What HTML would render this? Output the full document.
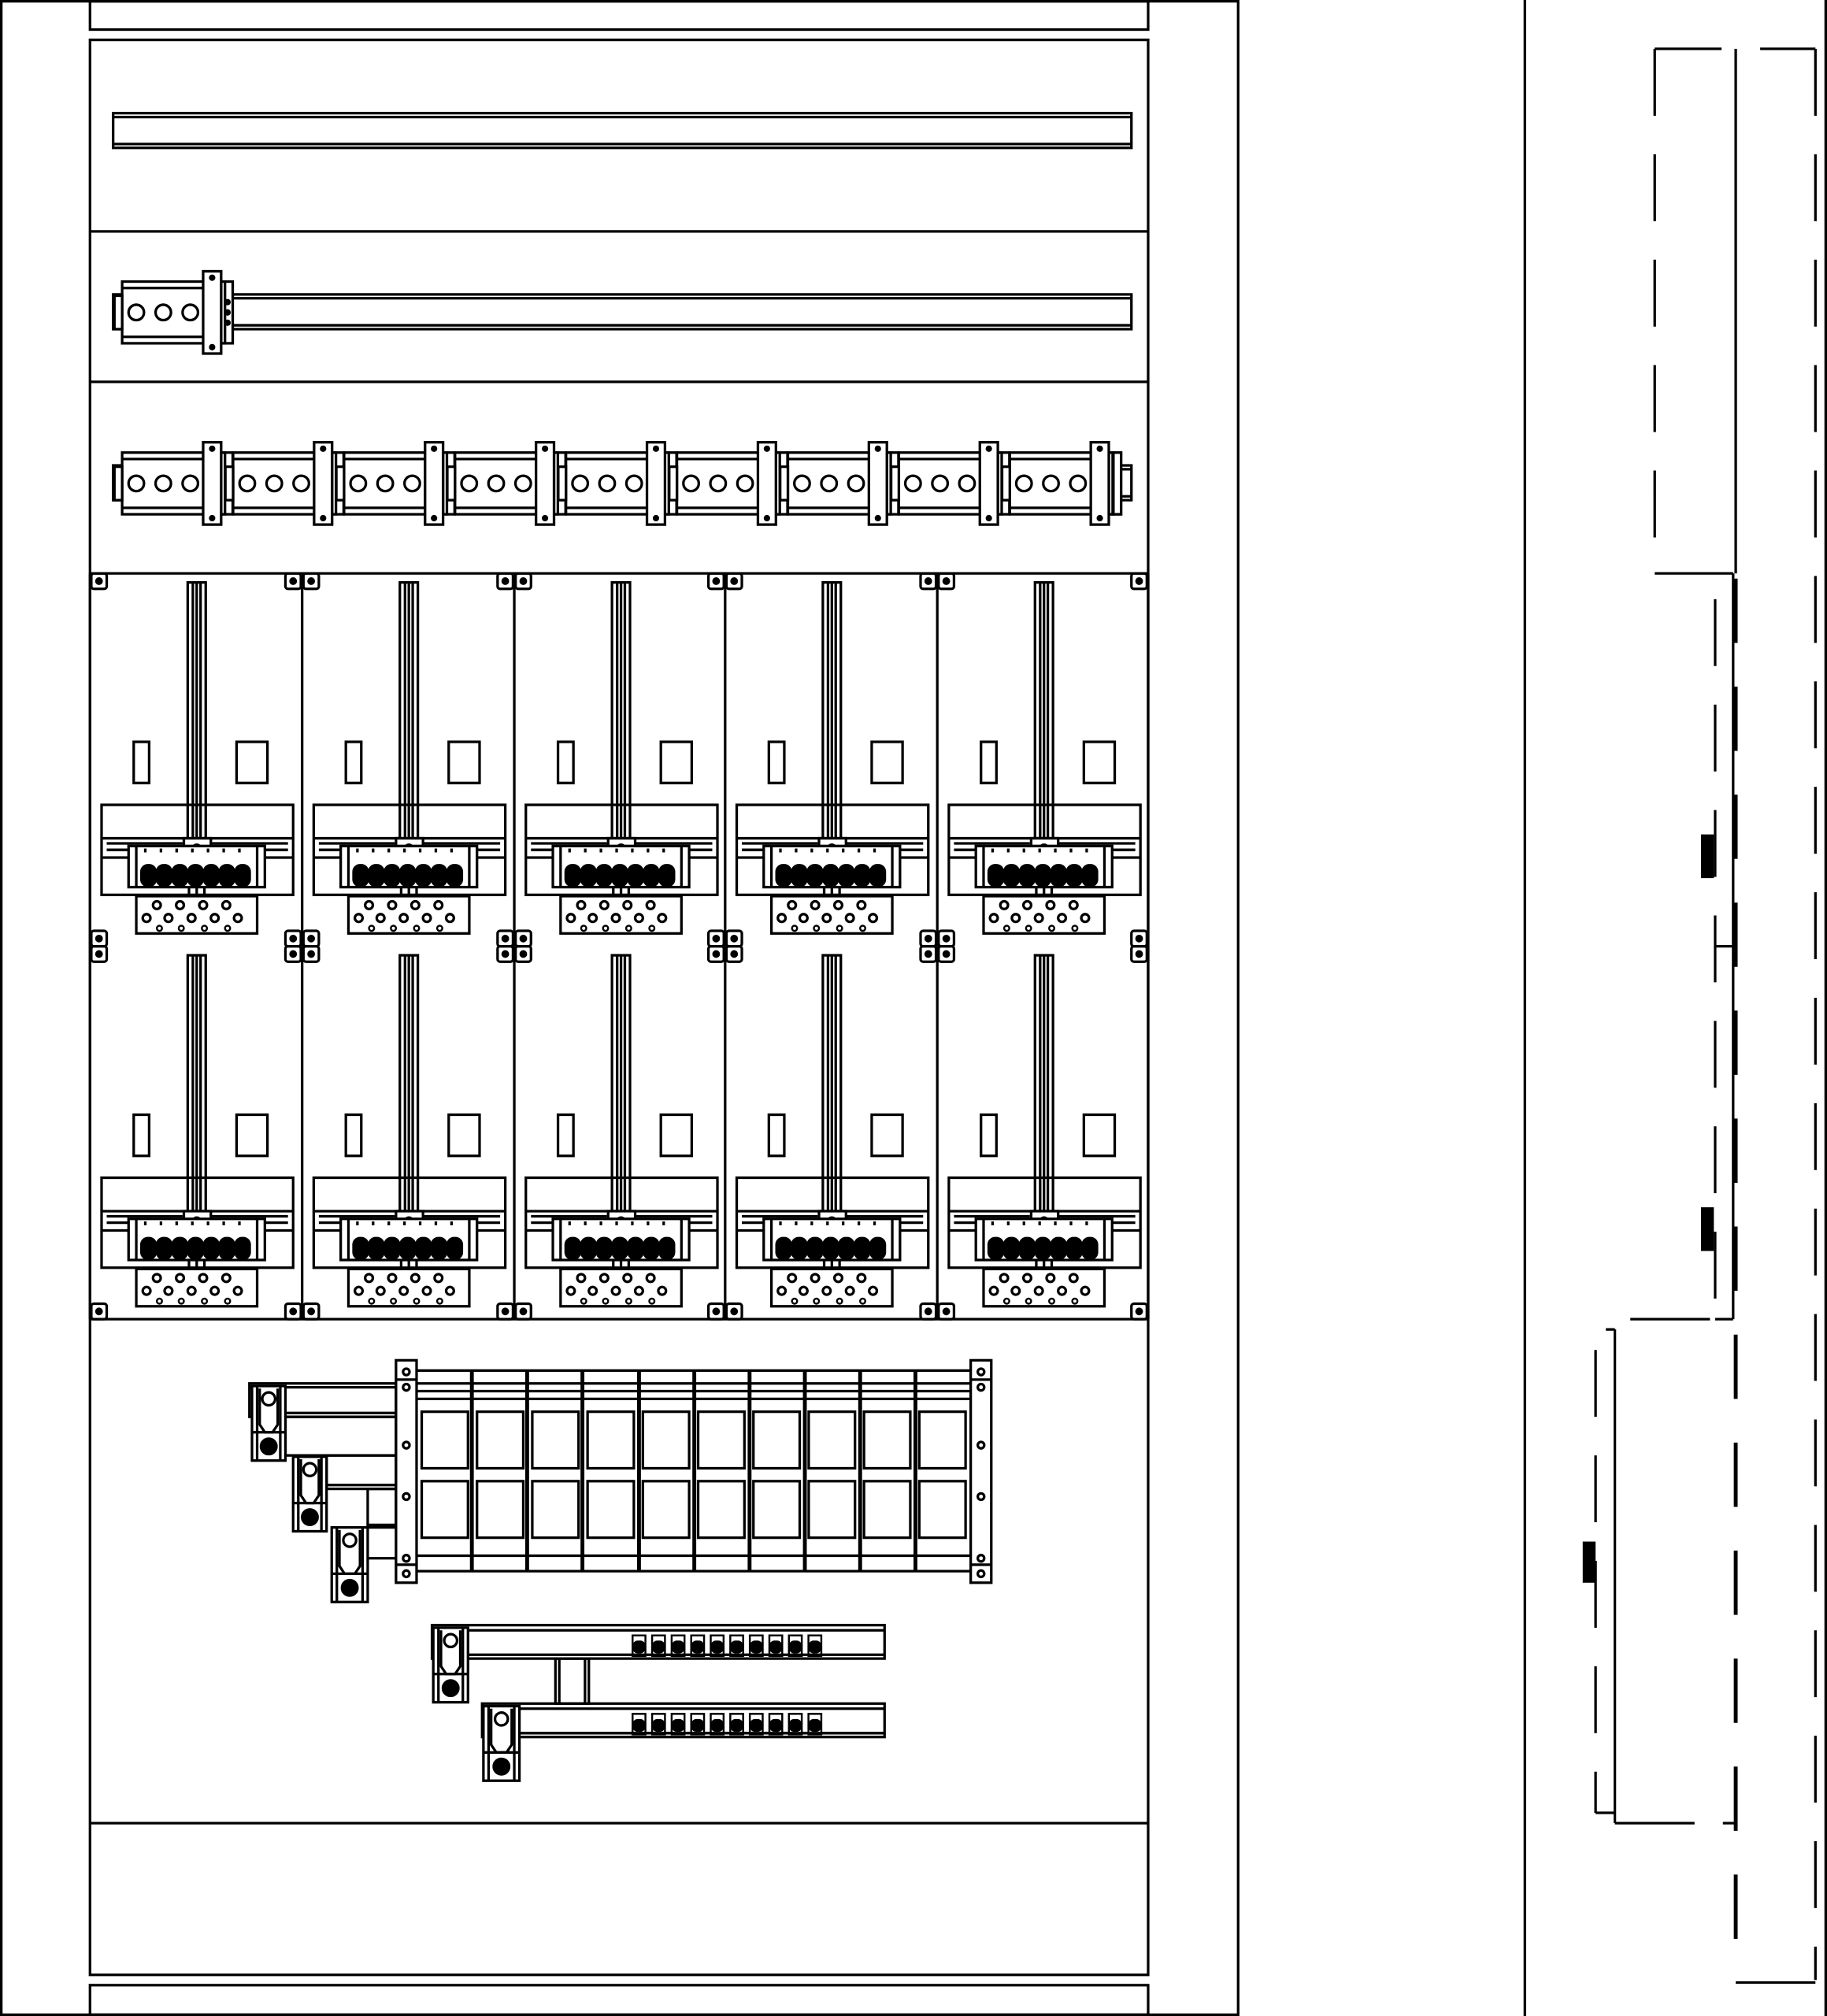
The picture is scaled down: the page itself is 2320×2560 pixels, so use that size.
<!DOCTYPE html>
<html><head><meta charset="utf-8"><style>
html,body{margin:0;padding:0;background:#fff;width:2320px;height:2560px;overflow:hidden}
svg{display:block}
</style></head><body>
<svg id="s" width="2320" height="2560" viewBox="0 0 1421 1568" xmlns="http://www.w3.org/2000/svg" fill="none" stroke="#000" stroke-width="2">
<g id="g"></g>
</svg>
<script>
var out=[];
function R(x,y,w,h,a){out.push('<rect x="'+x+'" y="'+y+'" width="'+w+'" height="'+h+'" '+(a||'')+'/>');}
function L(x1,y1,x2,y2,a){out.push('<line x1="'+x1+'" y1="'+y1+'" x2="'+x2+'" y2="'+y2+'" '+(a||'')+'/>');}
function C(x,y,r,a){out.push('<circle cx="'+x+'" cy="'+y+'" r="'+r+'" '+(a||'')+'/>');}
// frame
R(1,1,962,1566);
R(70,1,823,22);R(70,31,823,1505);R(70,1544,823,23);
[180,297,446,1026,1418].forEach(function(y){L(70,y,893,y);});
// rail 1
R(88,88,792,27);L(88,91,880,91);L(88,112,880,112);
// rail 2
R(88,229,792,27);L(88,232,880,232);L(88,253,880,253);
function block(x,y){ // terminal block of 3 circles
 R(x,y-24,80,48,'fill="#fff"');L(x,y-19,x+80,y-19);L(x,y+19,x+80,y+19);
 R(x-6,y-13,6,26,'fill="#fff"');
 [11,32,53].forEach(function(d){C(x+d,y,6);});
 R(x+77,y-24,9,48,'fill="#fff"');L(x+80,y-24,x+80,y+24);
 C(x+82,y-8,1.5,'fill="#000"');C(x+82,y,1.5,'fill="#000"');C(x+82,y+8,1.5,'fill="#000"');
 R(x+63,y-32,14,64,'fill="#fff"');C(x+70,y-27,1.5,'fill="#000"');C(x+70,y+27,1.5,'fill="#000"');
}
block(95,243);
// rail 3
R(88,362,792,27);L(88,365,880,365);L(88,386,880,386);
for(var i=0;i<9;i++){block(95+i*86.3,376);}
R(866,352,6,48,'fill="#fff"');
// meter grid
var cols=[70,235,400,564,729,893];
L(893,446,893,1026);
function screw(x,y){R(x-6,y-6,12,12,'rx="2"');C(x,y,2,'fill="#000"');}
for(var r=0;r<2;r++){
 var y0=446+r*290;
 for(var c=0;c<5;c++){
  var x0=cols[c];
  L(x0,y0,x0,y0+290);
  var ox=x0-70,oy=y0-446;
  // bar
  R(146+ox,453+oy,14,202);L(150+ox,453+oy,150+ox,655+oy);L(153+ox,453+oy,153+ox,655+oy);L(156+ox,453+oy,156+ox,655+oy);
  R(104+ox,577+oy,12,32);R(184+ox,577+oy,24,32);
  R(79+ox,626+oy,149,70);
  L(79+ox,652+oy,228+ox,652+oy);L(79+ox,667+oy,228+ox,667+oy);
  L(83+ox,656+oy,142+ox,656+oy);L(162+ox,656+oy,224+ox,656+oy);
  L(83+ox,661+oy,224+ox,661+oy);
  R(143+ox,652+oy,21,8,'fill="#fff"');
  out.push('<path d="M150,'+(660+oy)+' a3,3 0 0 1 6,0" transform="translate('+ox+',0)"/>');
  R(100+ox,658+oy,106,32,'fill="#fff"');L(106+ox,658+oy,106+ox,690+oy);L(200+ox,658+oy,200+ox,690+oy);
  for(var k=0;k<7;k++){R(110+ox+k*12.2,673+oy,11,16,'rx="5" fill="#000"');L(113+ox+k*12.2,660+oy,113+ox+k*12.2,663+oy);}
  L(147+ox,690+oy,147+ox,696+oy);L(153+ox,690+oy,153+ox,696+oy);L(159+ox,690+oy,159+ox,696+oy);
  R(106+ox,697+oy,94,29);
  [122,140,158,176].forEach(function(d){C(d+ox,704+oy,3);});
  [114,131,149,167,185].forEach(function(d){C(d+ox,714+oy,3);});
  [124,141,159,177].forEach(function(d){C(d+ox,722+oy,2,'stroke-width="1.5"');});
  // corner screws
  screw(x0+7,y0+6);screw(cols[c+1]-7,y0+6);screw(x0+7,y0+284);screw(cols[c+1]-7,y0+284);
 }
}
// lower busbar assembly
R(308,1058,16,173);R(755,1058,16,173);
[1067,1079,1124,1164,1212,1224].forEach(function(y){C(316,y,2.5);C(763,y,2.5);});
L(308,1073,324,1073);L(308,1217,324,1217);L(755,1073,771,1073);L(755,1217,771,1217);
[1066,1076,1082,1088,1210,1222].forEach(function(y){L(324,y,755,y);});
var dv=[367,410,453,497,540,583,626,669,712];
dv.forEach(function(x){L(x,1066,x,1222,'stroke-width="3"');});
for(var i=0;i<10;i++){var x=327+i*43;R(x+1,1098,36,44);R(x+1,1152,36,44);}
function lug(x,y,w,h){R(x,y,w,h,'fill="#fff"');L(x+4,y,x+4,y+h);L(x+w-4,y,x+w-4,y+h);
 C(x+w/2,y+10,5);out.push('<path d="M'+(x+6)+','+(y+2)+' v28 l4,6 h'+(w-20)+' l4,-6 v-28"/>');
 L(x,y+h-22,x+w,y+h-22);C(x+w/2,y+h-11,6,'fill="#000"');}
// bars for lugs
R(194,1076,114,26);L(194,1079,308,1079);R(222,1102,86,30);L(222,1099,308,1099);
R(254,1132,54,26);L(254,1155,308,1155);R(286,1158,22,30);L(286,1186,308,1186);L(286,1212,308,1212);
lug(196,1078,26,58);lug(228,1133,26,58);lug(258,1188,28,58);
// second group
R(336,1264,352,26);L(364,1268,688,1268);L(364,1287,688,1287);
R(375,1325,313,26);L(404,1329,688,1329);L(404,1348,688,1348);
R(432,1290,26,35);L(435,1290,435,1325);L(455,1290,455,1325);
lug(337,1266,27,58);lug(376,1327,28,58);
for(var i=0;i<10;i++){var x=492+i*15.2;R(x,1272,10,16,'stroke-width="1.5"');R(x+1,1277,8,8,'rx="3" fill="#000"');
 R(x,1333,10,16,'stroke-width="1.5"');R(x+1,1338,8,8,'rx="3" fill="#000"');}
// right side view
L(1186,0,1186,1568);L(1420,0,1420,1568);
var D='stroke-dasharray="52 30"';
L(1287,38,1412,38,D);L(1287,38,1287,446,D);L(1350,38,1350,446);L(1412,38,1412,1540,D);
L(1287,446,1348,446);L(1348,446,1348,1026);L(1350,450,1350,1540,'stroke-width="3" stroke-dasharray="50 34"');
L(1334,466,1334,1026,D);L(1334,736,1348,736);L(1334,1026,1348,1026);L(1268,1026,1330,1026);
R(1324,650,8,32,'fill="#000"');R(1324,940,8,32,'fill="#000"');
L(1256,1034,1256,1418);L(1249,1034,1256,1034);L(1241,1050,1241,1410,D);L(1241,1410,1256,1410);
L(1256,1418,1318,1418);L(1340,1418,1350,1418);L(1350,1542,1412,1542);
R(1232,1200,8,30,'fill="#000"');
document.getElementById('g').innerHTML=out.join('');
</script>
</body></html>
